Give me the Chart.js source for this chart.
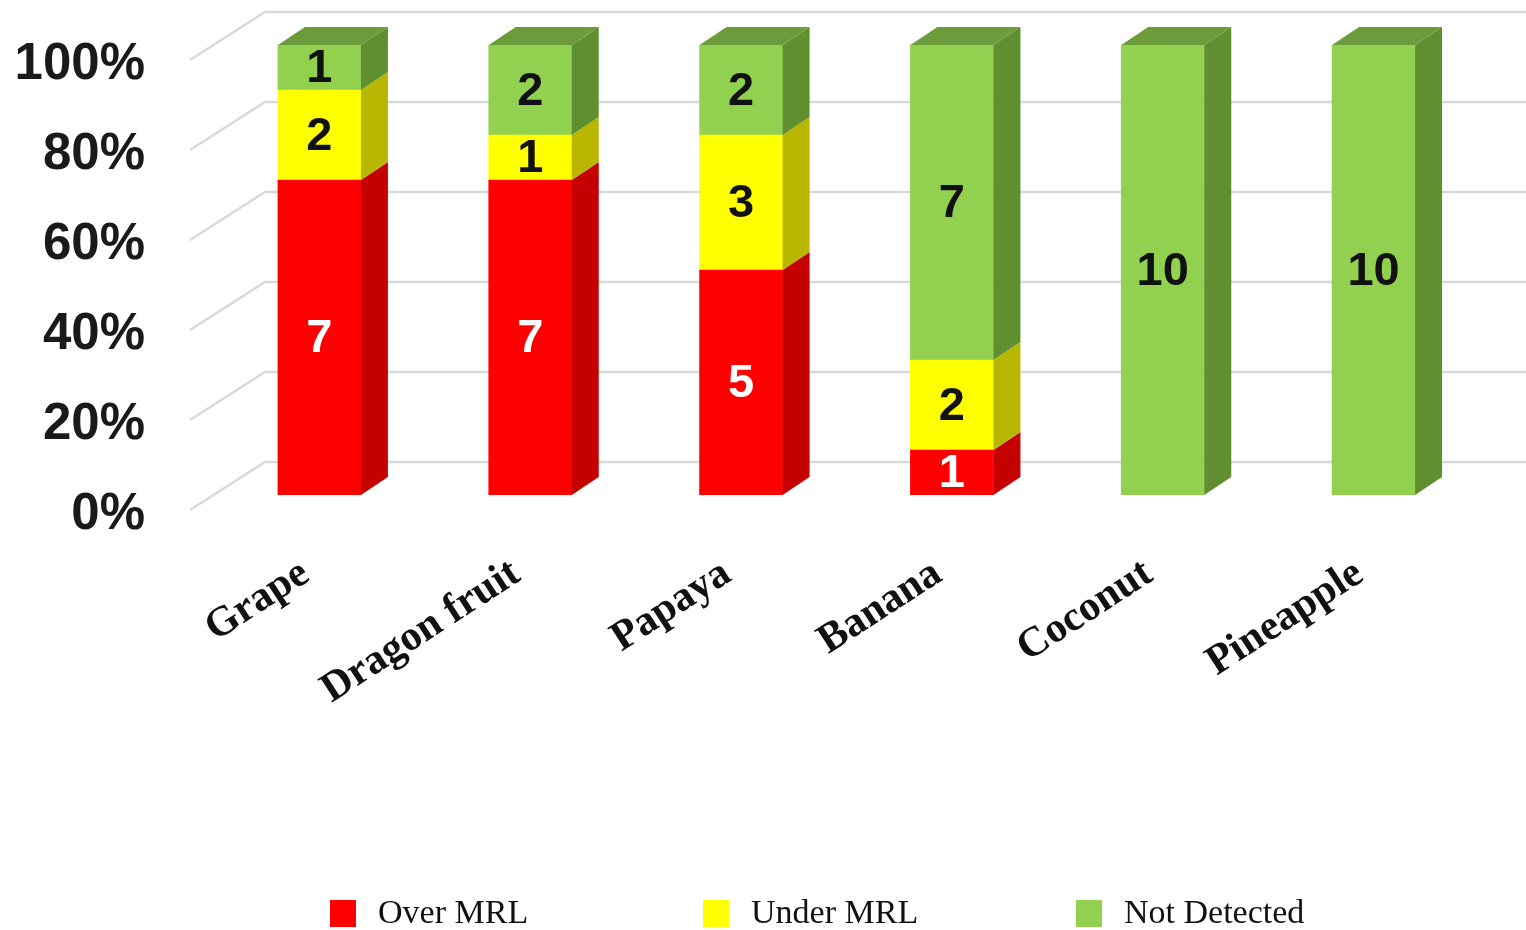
<!DOCTYPE html>
<html>
<head>
<meta charset="utf-8">
<script src="https://cdn.jsdelivr.net/npm/chart.js@4.4.0/dist/chart.umd.min.js"></script>
<style>
  html, body { margin: 0; padding: 0; background: #fff; }
</style>
</head>
<body>
<canvas id="chart" width="1526" height="930"></canvas>
<script>
const fruits = ['Grape', 'Dragon fruit', 'Papaya', 'Banana', 'Coconut', 'Pineapple'];
const overMRL = [7, 7, 5, 1, 0, 0];
const underMRL = [2, 1, 3, 2, 0, 0];
const notDetected = [1, 2, 2, 7, 10, 10];
const yTickLabels = ['0%', '20%', '40%', '60%', '80%', '100%'];

const seriesNames = ['Over MRL', 'Under MRL', 'Not Detected'];
const counts = [overMRL, underMRL, notDetected];
const totals = fruits.map((f, i) => overMRL[i] + underMRL[i] + notDetected[i]);

// cores: frente, lateral, topo
const frontColors = ['#ff0000', '#ffff00', '#92d050'];
const sideColors = ['#c40000', '#b9b600', '#5f8f2e'];
const topColors = ['#d40000', '#d4cc00', '#6b9b3a'];

const DX = 27, DY = -18;

// grade em perspectiva atrás das barras
const grid3d = {
  id: 'grid3d',
  beforeDatasetsDraw(chart) {
    const { ctx, chartArea, scales: { y } } = chart;
    ctx.save();
    ctx.strokeStyle = '#d9d9d9';
    ctx.lineWidth = 2.5;
    y.ticks.forEach(t => {
      const py = y.getPixelForValue(t.value);
      ctx.beginPath();
      ctx.moveTo(chartArea.left - 24, py + 15);
      ctx.lineTo(chartArea.left + 51, py - 33);
      ctx.lineTo(chart.width, py - 33);
      ctx.stroke();
    });
    ctx.restore();
  }
};

// lateral e topo das barras + numeros
const bars3d = {
  id: 'bars3d',
  afterDatasetsDraw(chart) {
    const ctx = chart.ctx;
    ctx.save();
    fruits.forEach((f, i) => {
      let top = null;
      chart.data.datasets.forEach((ds, d) => {
        if (!counts[d][i]) return;
        const bar = chart.getDatasetMeta(d).data[i];
        const { x, y, base, width } = bar.getProps(['x', 'y', 'base', 'width'], true);
        const r = x + width / 2;
        ctx.fillStyle = sideColors[d];
        ctx.beginPath();
        ctx.moveTo(r, y);
        ctx.lineTo(r + DX, y + DY);
        ctx.lineTo(r + DX, base + DY);
        ctx.lineTo(r, base);
        ctx.closePath();
        ctx.fill();
        top = { x, y, width, d };
      });
      if (top) {
        const l = top.x - top.width / 2, r = top.x + top.width / 2;
        ctx.fillStyle = topColors[top.d];
        ctx.beginPath();
        ctx.moveTo(l, top.y);
        ctx.lineTo(l + DX, top.y + DY);
        ctx.lineTo(r + DX, top.y + DY);
        ctx.lineTo(r, top.y);
        ctx.closePath();
        ctx.fill();
      }
    });

    ctx.font = 'bold 47px "Liberation Sans", Arial, sans-serif';
    ctx.textAlign = 'center';
    ctx.textBaseline = 'middle';
    chart.data.datasets.forEach((ds, d) => {
      chart.getDatasetMeta(d).data.forEach((bar, i) => {
        const n = counts[d][i];
        if (!n) return;
        const { x, y, base } = bar.getProps(['x', 'y', 'base'], true);
        ctx.fillStyle = d === 0 ? '#ffffff' : '#111111';
        ctx.fillText(String(n), x, (y + base) / 2 + 2);
      });
    });
    ctx.restore();
  }
};

// legenda embaixo
const legendaBaixo = {
  id: 'legendaBaixo',
  afterDraw(chart) {
    const ctx = chart.ctx;
    ctx.save();
    ctx.font = '34px "Liberation Serif", "Times New Roman", serif';
    ctx.textBaseline = 'middle';
    ctx.textAlign = 'left';
    chart.data.datasets.forEach((ds, d) => {
      const bx = 330 + d * 373;
      ctx.fillStyle = frontColors[d];
      ctx.fillRect(bx, 900, 26, 27);
      ctx.fillStyle = '#111';
      ctx.fillText(ds.label, bx + 48, 914);
    });
    ctx.restore();
  }
};

new Chart(document.getElementById('chart'), {
  type: 'bar',
  data: {
    labels: fruits,
    datasets: seriesNames.map((name, d) => ({
      label: name,
      data: counts[d].map((c, i) => c ? c / totals[i] * 100 : null),
      backgroundColor: frontColors[d],
      borderWidth: 0,
      barThickness: 83
    }))
  },
  options: {
    responsive: false,
    animation: false,
    layout: { padding: { top: 45, right: 47, left: 0, bottom: 0 } },
    plugins: {
      legend: { display: false },
      tooltip: { enabled: false }
    },
    scales: {
      x: {
        stacked: true,
        grid: { display: false, drawTicks: false },
        border: { display: false },
        afterFit(s) { s.height = 435; },
        ticks: {
          minRotation: 33,
          maxRotation: 33,
          padding: 54,
          labelOffset: -14,
          color: '#111',
          font: { family: '"Liberation Serif", "Times New Roman", serif', size: 42, weight: 'bold' }
        }
      },
      y: {
        stacked: true,
        min: 0,
        max: 100,
        grid: { display: false, drawTicks: false },
        border: { display: false },
        afterFit(s) {
          s.width = 214;
          s.paddingTop = 0;
          s.paddingBottom = 0;
        },
        ticks: {
          stepSize: 20,
          padding: 69,
          labelOffset: 20,
          color: '#1a1a1a',
          font: { family: '"Liberation Sans", Arial, sans-serif', size: 51, weight: 'bold' },
          callback: (v) => yTickLabels[v / 20]
        }
      }
    }
  },
  plugins: [grid3d, bars3d, legendaBaixo]
});
</script>
</body>
</html>
